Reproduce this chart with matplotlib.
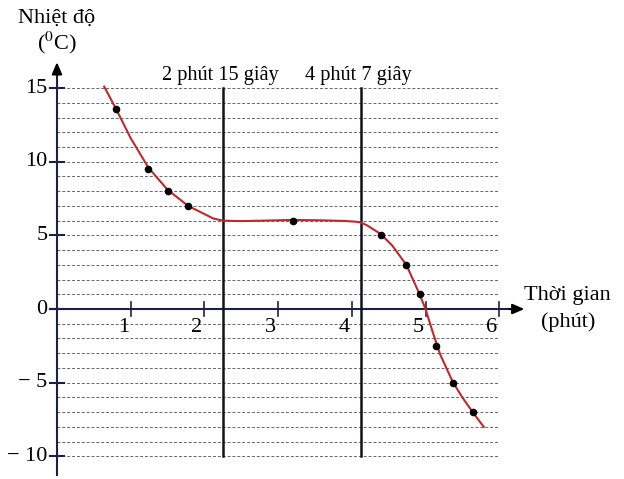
import matplotlib
matplotlib.use('Agg')
import matplotlib.pyplot as plt

plt.rcParams['font.family'] = ['Liberation Serif', 'DejaVu Serif']
plt.rcParams['mathtext.fontset'] = 'stix'

# Điểm đo (phút, độ C)
point_x = [0.80, 1.24, 1.51, 1.78, 3.20, 4.39, 4.74, 4.92, 5.14, 5.37, 5.64]
point_y = [13.6, 9.5, 8.0, 7.0, 6.0, 5.0, 3.0, 1.0, -2.5, -5.0, -7.0]

# Đường cong
curve_x = [0.64, 0.80, 1.00, 1.24, 1.50, 1.78, 2.00, 2.12, 2.25, 2.50, 2.80, 3.20,
           3.60, 3.90, 4.05, 4.12, 4.20, 4.28, 4.39, 4.55, 4.74, 4.92, 5.00, 5.10,
           5.20, 5.37, 5.50, 5.64, 5.79]
curve_y = [15.1, 13.6, 11.6, 9.6, 8.1, 7.0, 6.45, 6.15, 6.0, 5.97, 6.0, 6.05,
           6.02, 5.98, 5.93, 5.88, 5.7, 5.45, 5.1, 4.3, 3.0, 1.0, 0.0, -1.6,
           -3.1, -4.95, -6.0, -7.0, -8.0]

x_ticks = [1, 2, 3, 4, 5, 6]
y_ticks = [15, 10, 5, 0, -5, -10]
y_tick_labels = ['15', '10', '5', '0', '\u2212 5', '\u2212 10']
grid_levels = list(range(-10, 16))
marks_x = [2.25, 4.12]
marks_text = ['2 phút 15 giây', '4 phút 7 giây']

axis_col = '#1c2140'
fs = 16
fs_mark = 14.6

fig = plt.figure(figsize=(6.24, 4.79), dpi=100)
ax = fig.add_axes([0, 0, 1, 1])
ax.set_xlim(-0.773, 7.693)
ax.set_ylim(-11.54, 20.98)
ax.axis('off')

# Lưới ngang nét đứt
for g in grid_levels:
    if g == 0:
        continue
    ax.plot([0, 6.0], [g, g], color='#666666', lw=0.7, ls=(0, (3, 2)), zorder=1)

# Trục
ax.plot([0, 0], [-11.27, 16.2], color=axis_col, lw=1.5, zorder=3)
ax.plot([-0.1, 6.2], [0, 0], color=axis_col, lw=1.5, zorder=3)
ax.annotate('', xy=(0, 16.95), xytext=(0, 15.9),
            arrowprops=dict(arrowstyle='-|>,head_length=0.7,head_width=0.3',
                            color='black', lw=1.5), zorder=4)
ax.annotate('', xy=(6.38, 0), xytext=(6.1, 0),
            arrowprops=dict(arrowstyle='-|>,head_length=0.7,head_width=0.3',
                            color='black', lw=1.5), zorder=4)

for yt, lab in zip(y_ticks, y_tick_labels):
    ax.plot([-0.1, 0.1], [yt, yt], color=axis_col, lw=1.5, zorder=3)
    ax.text(-0.13, yt, lab, ha='right', va='center', fontsize=fs)

for xt in x_ticks:
    ax.plot([xt, xt], [-0.45, 0.45], color=axis_col, lw=1.2, zorder=3)
    ax.text(xt - 0.1, -1.25, str(xt), ha='center', va='center', fontsize=fs)

# Đường mốc thời gian
for mx, mt in zip(marks_x, marks_text):
    ax.plot([mx, mx], [-10, 15], color='#111122', lw=1.8, zorder=3)
    ax.text(mx - 0.03, 15.85, mt, ha='center', va='center', fontsize=fs_mark)

ax.plot(curve_x, curve_y, color='#c0282d', lw=1.5, zorder=5,
        solid_joinstyle='round')
ax.scatter(point_x, point_y, s=20, color='black', zorder=6)

ax.text(0.0, 19.75, 'Nhiệt độ', ha='center', va='center', fontsize=fs)
ax.text(0.0, 18.05, r'($^{0}$C)', ha='center', va='center', fontsize=fs)
ax.text(6.93, 0.95, 'Thời gian', ha='center', va='center', fontsize=fs)
ax.text(6.93, -0.9, '(phút)', ha='center', va='center', fontsize=fs)

fig.savefig('out.png', dpi=100)
plt.close(fig)
